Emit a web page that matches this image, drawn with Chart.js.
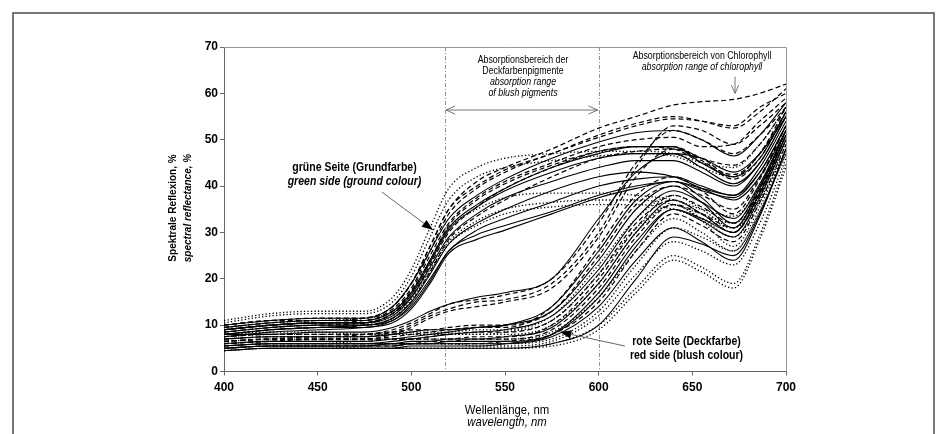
<!DOCTYPE html>
<html>
<head>
<meta charset="utf-8">
<script src="https://cdn.jsdelivr.net/npm/chart.js@4.4.1/dist/chart.umd.min.js"></script>
<style>
  body { margin: 0; background: #fff; }
  #wrap { position: relative; width: 939px; height: 434px; }
</style>
</head>
<body>
<div id="wrap"><canvas id="spektrum" width="939" height="434"></canvas></div>
<script>
const wellenlaenge = [400, 425, 450, 475, 490, 500, 510, 520, 535, 550, 575, 600, 620, 640, 655, 672, 686, 700];

// grüne Seite (Grundfarbe)
const g1  = [10, 11, 11.5, 11.5, 14, 19, 27, 35, 41, 44, 48, 52.5, 55, 57.5, 58.2, 58.7, 60, 62];
const g2  = [10, 11, 11, 11.5, 14, 19, 27, 35, 40, 43.5, 47, 51, 53.5, 55, 54, 52.5, 56, 61];
const g3  = [9.5, 10.5, 11, 11, 13.5, 18, 26, 34, 39.5, 43, 47, 50.5, 53, 54.5, 54, 53, 57, 60];
const g4  = [10, 11, 11.5, 11.5, 14, 19, 26, 33, 38, 41.5, 46, 49.5, 51.5, 52, 50, 46.5, 51, 58];
const g5  = [9, 10, 10.5, 11, 13, 17.5, 25, 32, 37.5, 41, 45, 48.5, 50, 50.5, 48.5, 49, 54, 59];
const g6  = [9.5, 10.5, 11, 11, 13, 17, 24, 31, 36, 39.5, 44, 47, 48.5, 48.5, 45, 42, 46, 56];
const g7  = [9, 10, 10.5, 10.5, 12.5, 16.5, 23.5, 30.5, 35.5, 39, 43, 46, 47, 47, 44, 40.5, 45, 55];
const g8  = [8.5, 9.5, 10, 10.5, 12.5, 16, 23, 30, 35.5, 39.5, 44, 47.5, 48.5, 48, 45, 42.5, 47, 57];
const g9  = [9, 10, 10.5, 10.5, 12, 16, 22.5, 29, 34, 37.5, 41, 44, 45.5, 45.5, 43, 40, 45, 55];
const g10 = [10.5, 12, 12.5, 12.5, 15, 20.5, 29, 37, 42, 44, 45.5, 46.5, 47, 46.5, 44, 42, 47, 56];
const g11 = [11, 12.5, 13, 13, 16, 22, 31, 39.5, 44, 46, 47, 47.5, 47.5, 47, 45, 44, 49, 57];
const g12 = [8.5, 9.5, 10, 10, 11.5, 15, 21, 27.5, 32, 35, 39, 42, 43, 42, 39.5, 37, 42, 52];
const g13 = [8, 9, 9.5, 10, 11, 14.5, 20, 26, 30.5, 33, 36.5, 40, 41.5, 42, 40, 38, 43, 53];
const g14 = [9, 10, 10.5, 10.5, 12, 16, 22, 28, 32.5, 35, 36.5, 37, 37, 36, 34, 32, 38, 50];
const g15 = [8.5, 9.5, 10, 10, 11.5, 15.5, 21.5, 27.5, 31.5, 34, 35.5, 36, 36, 35, 33, 31, 37, 49];
const g16 = [9.5, 10.5, 11, 11.5, 13, 17, 24, 31, 35, 37.5, 38.5, 38.5, 38, 37, 35, 33.5, 40, 51];
const g17 = [9, 10, 10.5, 10.5, 12.5, 17, 24, 31.5, 37, 40.5, 44.5, 47.5, 48.5, 48.5, 46, 44.5, 49, 57];
const g18 = [8, 9, 9.5, 9.5, 11, 14, 19.5, 26, 29.5, 31.5, 34.5, 38, 40, 41, 39, 37.5, 43, 53];
const g19 = [7.5, 8.5, 9, 9.5, 10.5, 13.5, 19, 25.5, 28.5, 30.5, 34, 37.5, 39.5, 41, 39.5, 38, 44, 54];
const g20 = [8, 9, 9.5, 10, 11.5, 15, 21.5, 28.5, 33.5, 37, 42, 46, 47.5, 48, 45.5, 41.5, 46, 56];

// rote Seite, früh ansteigende Kurven
const m1 = [8, 8, 8.5, 8.5, 9.5, 11, 13, 14.5, 16, 17, 20, 33, 43, 47, 46, 43, 47, 55];
const m2 = [7, 7.5, 7.5, 8, 9, 10.5, 12.5, 14.5, 15.5, 16.5, 20, 32, 45, 52, 50, 47, 51, 57];
const m3 = [6.5, 7, 7.5, 7.5, 8.5, 10, 12, 13.5, 15, 15.5, 19, 30, 44, 53, 52, 49, 53, 58];
const m4 = [6, 6.5, 7, 7, 8, 9.5, 11.5, 13, 14, 15, 18, 29, 42, 48, 46, 42, 47, 56];

// rote Seite (Deckfarbe)
const r1  = [6, 6.5, 6.5, 6.5, 7, 7.5, 8, 8.5, 9.5, 10, 13, 24, 35, 40, 36.5, 31, 39.5, 52];
const r2  = [6.5, 7, 7, 7, 7.5, 8, 8.5, 9, 9.5, 9.5, 14, 27, 38, 42, 39, 34, 41.5, 53];
const r3  = [7.5, 8, 8, 8, 8.5, 8.5, 8.5, 8.5, 9, 9, 12, 23, 33, 38, 35, 31, 38.5, 50];
const r4  = [5.5, 6, 6, 6, 6.5, 7, 7.5, 8, 8.5, 9, 12, 22, 33, 39, 36.5, 33, 40.5, 52];
const r5  = [6, 6.5, 6.5, 6.5, 7, 7, 7.5, 8, 8.5, 8.5, 11, 21, 32, 37, 34, 30, 38, 50];
const r6  = [7, 7.5, 7.5, 7.5, 8, 8, 8, 8, 8, 8, 10, 19, 30, 36, 33, 29, 36.5, 48];
const r7  = [5, 5.5, 5.5, 5.5, 6, 6, 6, 6.5, 6.5, 6.5, 8, 16, 27, 35, 32.5, 29, 37.5, 50];
const r8  = [5, 5.5, 5.5, 5.5, 5.5, 6, 6, 6, 6, 6.5, 8, 15, 26, 34, 31.5, 28, 36.5, 49];
const r9  = [4.5, 5, 5, 5, 5, 5.5, 5.5, 5.5, 5.5, 6, 8, 17, 28, 35, 33, 30, 38.5, 51];
const r10 = [6, 6.5, 6.5, 6, 6, 6, 6, 6, 6, 6, 7, 13, 23, 31, 29, 26, 34.5, 47];
const r11 = [4.5, 5, 5, 5, 5, 5, 5, 5, 5, 5, 6, 10, 20, 29, 27.5, 25, 34, 48];
const r12 = [5.5, 6, 6, 6, 6, 6, 6, 6, 5.5, 5.5, 6.5, 12, 21, 28, 26, 23, 32, 46];
const r13 = [5, 5.5, 5.5, 5, 5, 5, 5, 5, 5, 5, 6, 10, 18, 25, 22.5, 19, 29.5, 45];
const r14 = [5.5, 6, 6, 6, 6, 6, 6.5, 6.5, 7, 7, 9, 18, 29, 36, 34, 31, 39, 51];
const r15 = [5, 5.5, 5.5, 5.5, 5.5, 6, 6, 6, 6, 6, 7.5, 14, 24, 31, 28, 24, 33.5, 48];
const r16 = [6.5, 7, 7, 7, 7, 7, 7, 7, 7, 7, 8.5, 16, 26, 33, 30, 26, 34.5, 47];
const r17 = [4.5, 5, 5, 5, 5, 5, 5, 5, 5, 5, 5.5, 9, 17, 24, 21.5, 18, 28.5, 44];
const r18 = [7, 7.5, 7.5, 7.5, 8, 8.5, 9, 9, 9.5, 10, 14, 26, 37, 41, 37.5, 32, 40, 52];
const r19 = [7.5, 8, 8, 8, 8.5, 9, 9, 9.5, 10, 10, 13, 25, 36, 40, 38, 35, 42, 53];
const r20 = [5.5, 6, 6, 6, 6, 6.5, 6.5, 7, 7, 7.5, 9.5, 19, 30, 37, 34, 30, 38.5, 51];
const r21 = [8, 8.5, 8.5, 8, 8, 8, 8, 8, 8, 8.5, 11, 21, 31, 36, 32.5, 27, 35.5, 48];
const r22 = [6.5, 7, 7, 7, 7, 7, 7, 7, 7.5, 7.5, 10, 20, 31, 38, 35.5, 32, 39.5, 51];

// Linienart je Kurve
const durchgezogen = [g4, g6, g7, g9, g12, g13, g18, g19, m1, r1, r4, r7, r9, r11, r15, r18, r20];
const gestrichelt  = [g1, g2, g3, g5, g8, g17, g20, m2, m3, m4, r2, r5, r8, r14, r19, r22];
const gepunktet    = [g10, g11, g14, g15, g16, r3, r6, r10, r12, r13, r16, r17, r21];

const achsenTicksX = [400, 450, 500, 550, 600, 650, 700];
const achsenTicksY = [0, 10, 20, 30, 40, 50, 60, 70];

const schrift = "'Liberation Sans', Arial, sans-serif";

function kurve(werte, dash, breite) {
    return {
        data: wellenlaenge.map((w, i) => ({ x: w, y: werte[i] })),
        borderColor: '#000',
        borderWidth: breite,
        borderDash: dash,
        pointRadius: 0,
        fill: false,
        cubicInterpolationMode: 'monotone'
    };
}

const datasets = [];
gepunktet.forEach(k => datasets.push(kurve(k, [1.3, 2.2], 1.3)));
gestrichelt.forEach(k => datasets.push(kurve(k, [5, 3], 1.2)));
durchgezogen.forEach(k => datasets.push(kurve(k, [], 1.1)));

// Pfeil zeichnen (offen oder gefüllt)
function pfeil(ctx, x1, y1, x2, y2, gefuellt, groesse, beidseitig) {
    ctx.beginPath();
    ctx.moveTo(x1, y1);
    ctx.lineTo(x2, y2);
    ctx.stroke();
    const spitze = (xa, ya, xb, yb) => {
        const a = Math.atan2(yb - ya, xb - xa);
        const w = gefuellt ? 0.36 : 0.42;
        const p1 = [xb - groesse * Math.cos(a - w), yb - groesse * Math.sin(a - w)];
        const p2 = [xb - groesse * Math.cos(a + w), yb - groesse * Math.sin(a + w)];
        ctx.beginPath();
        ctx.moveTo(p1[0], p1[1]);
        ctx.lineTo(xb, yb);
        ctx.lineTo(p2[0], p2[1]);
        if (gefuellt) { ctx.closePath(); ctx.fill(); } else { ctx.stroke(); }
    };
    spitze(x1, y1, x2, y2);
    if (beidseitig) spitze(x2, y2, x1, y1);
}

// schmale Schrift nachbilden (Arial Narrow ist nicht vorhanden)
function schmal(ctx, text, x, y, font) {
    ctx.save();
    ctx.font = font + ' ' + schrift;
    ctx.translate(x, y);
    ctx.scale(0.84, 1);
    ctx.fillText(text, 0, 0);
    ctx.restore();
}

const beschriftung = {
    id: 'beschriftung',
    beforeDraw(chart) {
        const ctx = chart.ctx;
        ctx.save();
        ctx.fillStyle = '#fff';
        ctx.fillRect(0, 0, chart.width, chart.height);
        ctx.strokeStyle = '#555';
        ctx.lineWidth = 1.6;
        ctx.strokeRect(13, 13, 921, 460);
        ctx.restore();
    },
    beforeDatasetsDraw(chart) {
        const ctx = chart.ctx;
        const a = chart.chartArea;
        const xs = chart.scales.x;
        ctx.save();
        // Rahmen oben und rechts
        ctx.strokeStyle = '#999';
        ctx.lineWidth = 1;
        ctx.beginPath();
        ctx.moveTo(a.left, a.top + 0.5);
        ctx.lineTo(a.right + 0.5, a.top + 0.5);
        ctx.lineTo(a.right + 0.5, a.bottom);
        ctx.stroke();
        // Absorptionsbereich 518-600 nm
        ctx.strokeStyle = '#777';
        ctx.lineWidth = 0.8;
        ctx.setLineDash([4, 2, 1, 2]);
        [518, 600].forEach(w => {
            const x = Math.round(xs.getPixelForValue(w)) + 0.5;
            ctx.beginPath();
            ctx.moveTo(x, a.top);
            ctx.lineTo(x, a.bottom);
            ctx.stroke();
        });
        ctx.restore();
    },
    afterDatasetsDraw(chart) {
        const ctx = chart.ctx;
        const xs = chart.scales.x, ys = chart.scales.y;
        const px = v => xs.getPixelForValue(v), py = v => ys.getPixelForValue(v);
        ctx.save();
        ctx.strokeStyle = '#666';
        ctx.fillStyle = '#000';
        ctx.lineWidth = 0.9;
        pfeil(ctx, px(518) + 1, py(56.4), px(600) - 1, py(56.4), false, 10, true);
        pfeil(ctx, px(672.8), py(63.6), px(672.8), py(60), false, 9, false);
        ctx.strokeStyle = '#555';
        pfeil(ctx, px(484.3), py(38.7), px(511.6), py(30.5), true, 12, false);
        pfeil(ctx, px(614), py(5.5), px(579.4), py(8.5), true, 12, false);

        ctx.fillStyle = '#000';
        ctx.textAlign = 'center';
        ctx.textBaseline = 'middle';
        schmal(ctx, 'Absorptionsbereich der', 523, 60, '10.5px');
        schmal(ctx, 'Deckfarbenpigmente', 523, 71, '10.5px');
        schmal(ctx, 'absorption range', 523, 82.5, 'italic 10.5px');
        schmal(ctx, 'of blush pigments', 523, 93.5, 'italic 10.5px');
        schmal(ctx, 'Absorptionsbereich von Chlorophyll', 702, 56, '10.5px');
        schmal(ctx, 'absorption range of chlorophyll', 702, 67, 'italic 10.5px');

        schmal(ctx, 'grüne Seite (Grundfarbe)', 354.5, 168, 'bold 12.5px');
        schmal(ctx, 'green side (ground colour)', 354.5, 182, 'italic bold 12.5px');
        schmal(ctx, 'rote Seite (Deckfarbe)', 686.5, 342, 'bold 12.5px');
        schmal(ctx, 'red side (blush colour)', 686.5, 356, 'bold 12.5px');

        schmal(ctx, 'Wellenlänge, nm', 507, 410, '13.5px');
        schmal(ctx, 'wavelength, nm', 507, 422, 'italic 13.5px');

        ctx.translate(173, 208);
        ctx.rotate(-Math.PI / 2);
        ctx.font = 'bold 10px ' + schrift;
        ctx.fillText('Spektrale Reflexion, %', 0, 0);
        ctx.font = 'italic bold 10px ' + schrift;
        ctx.fillText('spectral reflectance, %', 0, 15);
        ctx.restore();
    }
};

new Chart(document.getElementById('spektrum'), {
    type: 'line',
    data: { datasets: datasets },
    options: {
        responsive: false,
        animation: false,
        events: [],
        layout: { padding: { top: 47, right: 153, left: 0, bottom: 0 } },
        plugins: { legend: { display: false }, tooltip: { enabled: false } },
        scales: {
            x: {
                type: 'linear',
                min: achsenTicksX[0],
                max: achsenTicksX[achsenTicksX.length - 1],
                afterBuildTicks: s => { s.ticks = achsenTicksX.map(v => ({ value: v })); },
                afterFit: s => { s.height = 62.5; },
                ticks: { color: '#000', font: { family: schrift, size: 12, weight: 'bold' }, padding: 5, maxRotation: 0 },
                grid: { drawOnChartArea: false, drawTicks: true, tickLength: 4, color: '#666' },
                border: { display: true, color: '#666', width: 1 }
            },
            y: {
                type: 'linear',
                min: achsenTicksY[0],
                max: achsenTicksY[achsenTicksY.length - 1],
                afterBuildTicks: s => { s.ticks = achsenTicksY.map(v => ({ value: v })); },
                afterFit: s => { s.width = 224; },
                ticks: { color: '#000', font: { family: schrift, size: 12, weight: 'bold' }, padding: 2 },
                grid: { drawOnChartArea: false, drawTicks: true, tickLength: 4, color: '#666' },
                border: { display: true, color: '#666', width: 1 }
            }
        }
    },
    plugins: [beschriftung]
});
</script>
</body>
</html>
